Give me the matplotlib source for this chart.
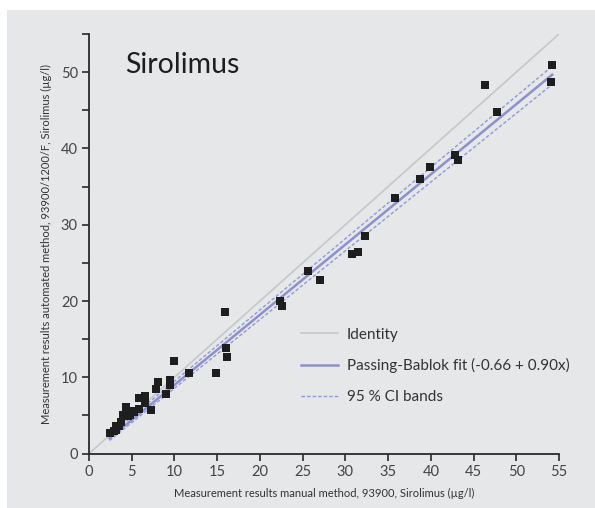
import matplotlib.pyplot as plt
import matplotlib.patches as mpatches
import numpy as np

plt.rcParams['font.family'] = ['Lato', 'DejaVu Sans']

# measured values (manual method vs automated method), µg/l
manual = [54.2, 54.07, 46.3, 47.75, 42.8, 43.2, 39.9, 38.7, 35.8, 32.3,
          31.5, 30.8, 27.0, 25.6, 22.35, 22.6, 15.9, 16.0, 16.15, 14.9,
          11.7, 9.95, 9.5, 9.5, 8.07, 7.84, 9.0, 7.2, 6.5, 6.5,
          5.9, 6.6, 5.8, 4.33, 5.07, 4.0, 4.8, 4.6, 5.3, 3.8,
          3.5, 3.2, 3.16, 2.5, 2.9]
automated = [50.9, 48.7, 48.3, 44.8, 39.1, 38.5, 37.6, 36.0, 33.5, 28.5,
             26.4, 26.1, 22.7, 23.9, 20.0, 19.3, 18.6, 13.8, 12.7, 10.6,
             10.6, 12.1, 9.7, 9.0, 9.37, 8.47, 7.8, 5.75, 7.6, 7.2,
             7.3, 6.6, 5.9, 6.15, 5.6, 5.0, 5.0, 4.9, 5.4, 4.1,
             3.6, 3.6, 3.1, 2.7, 3.0]

# lines as drawn in the picture (intercept, slope)
fit = (-0.2, 0.92)
ci_upper = (0.15, 0.934)
ci_lower = (-0.45, 0.901)
fit_range = [2.4, 54.2]

fig = plt.figure(figsize=(5.95, 5.08), dpi=100)
fig.patch.set_facecolor('white')
fig.patches.append(mpatches.Rectangle((7 / 595, 0), 1, (508 - 10) / 508,
                                      transform=fig.transFigure,
                                      facecolor='#e6e7e8', edgecolor='none', zorder=-5))

ax = fig.add_axes([89 / 595, 54.4 / 508, 470 / 595, 419.6 / 508])
ax.set_facecolor('none')

xs = np.array(fit_range)
ax.plot([0, 55], [0, 55], color='#c6c7c9', lw=1.2, label='Identity', zorder=1)
ax.plot(xs, fit[0] + fit[1] * xs, color='#8c90cf', lw=1.8,
        label='Passing-Bablok fit (-0.66 + 0.90x)', zorder=2)
ax.plot(xs, ci_upper[0] + ci_upper[1] * xs, color='#9397d6', lw=1.0,
        ls=(0, (2.5, 1.5)), label='95 % CI bands', zorder=2)
ax.plot(xs, ci_lower[0] + ci_lower[1] * xs, color='#9397d6', lw=1.0,
        ls=(0, (2.5, 1.5)), zorder=2)
ax.plot(manual, automated, 's', color='#1e1e1e', ms=6, mew=0, zorder=3)

ax.set_xlim(0, 55)
ax.set_ylim(0, 55)
ax.spines['top'].set_visible(False)
ax.spines['right'].set_visible(False)
for s in ['left', 'bottom']:
    ax.spines[s].set_color('#2a2a2a')
    ax.spines[s].set_linewidth(1.3)

ax.set_xticks(np.arange(0, 56, 5))
ax.set_yticks(np.arange(0, 51, 10))
ax.set_yticks(np.arange(5, 56, 10), minor=True)
ax.tick_params(which='both', direction='out', length=5, width=1.2,
               color='#2a2a2a', labelsize=10.5, labelcolor='#444444', pad=3)

ax.set_xlabel('Measurement results manual method, 93900, Sirolimus (µg/l)',
              fontsize=8, color='#333333', labelpad=7)
ax.set_ylabel('Measurement results automated method, 93900/1200/F, Sirolimus (µg/l)',
              fontsize=8, color='#333333', labelpad=6)

ax.text(0.076, 0.957, 'Sirolimus', transform=ax.transAxes, fontsize=20.5,
        color='#1e1e1e', va='top', ha='left')

leg = ax.legend(loc='upper left', bbox_to_anchor=(0.422, 0.333), frameon=False,
                fontsize=11, handlelength=2.4, handletextpad=0.6,
                labelspacing=1.1, labelcolor='#333333')

fig.savefig('out.png', dpi=100)
